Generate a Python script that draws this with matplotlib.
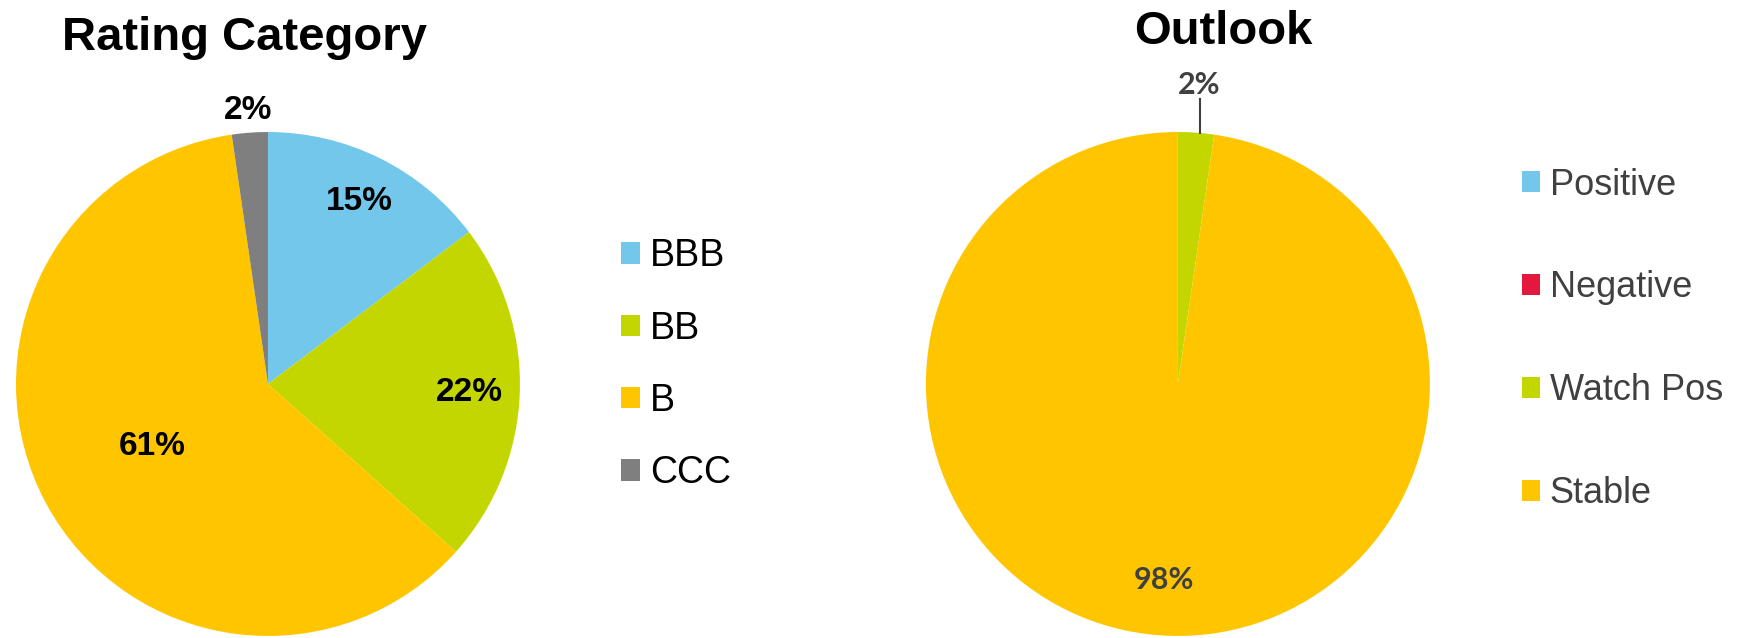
import numpy as np
import matplotlib
matplotlib.use("Agg")
import matplotlib.pyplot as plt

rating_labels = ["BBB", "BB", "B", "CCC"]
rating_values = [14.7, 21.9, 61.1, 2.3]
rating_colors = ["#72C7EB", "#C4D600", "#FFC600", "#7F7F7F"]

outlook_labels = ["Positive", "Negative", "Watch Pos", "Stable"]
outlook_values = [0.0, 0.0, 2.3, 97.7]
outlook_colors = ["#72C7EB", "#E4173E", "#C4D600", "#FFC600"]


def pct(v):
    return "" if v < 0.5 else "%.0f%%" % v


def place(wedges, texts, radii):
    # move the percent labels to where the original chart has them
    out = []
    for w, t, r in zip(wedges, texts, radii):
        ang = np.deg2rad((w.theta1 + w.theta2) / 2)
        t.set_position((r * np.cos(ang), r * np.sin(ang)))
        out.append(ang)
    return out


def main():
    fig = plt.figure(figsize=(17.48, 6.38), dpi=100)

    # left pie: rating category
    ax1 = fig.add_axes([0.00915, 0.00313, 0.2883, 0.79])
    w1, _, t1 = ax1.pie(rating_values, colors=rating_colors, startangle=90,
                        counterclock=False, autopct=pct,
                        wedgeprops=dict(linewidth=0),
                        textprops=dict(fontsize=24, fontweight="bold",
                                       family="Liberation Sans", color="black"))
    place(w1, t1, [0.81, 0.80, 0.52, 1.09])
    ax1.set_xlim(-1, 1)
    ax1.set_ylim(-1, 1)
    ax1.set_aspect("equal")
    ax1.axis("off")
    for w in w1:
        w.set_clip_on(False)
    ax1.legend(w1, rating_labels, loc="center left",
               bbox_to_anchor=(0.3553, 0.428), bbox_transform=fig.transFigure,
               frameon=False, prop=dict(family="Liberation Sans", size=27),
               handlelength=0.5, handleheight=0.5, handletextpad=0.27,
               labelspacing=0.97, borderpad=0, borderaxespad=0)

    # right pie: outlook
    ax2 = fig.add_axes([0.5297, 0.00313, 0.2883, 0.79])
    w2, _, t2 = ax2.pie(outlook_values, colors=outlook_colors, startangle=90,
                        counterclock=False, autopct=pct,
                        wedgeprops=dict(linewidth=0),
                        textprops=dict(fontsize=22, fontweight="bold",
                                       family="Lato", color="#404040"))
    angs = place(w2, t2, [1.0, 1.0, 1.19, 0.78])
    # vertical leader line for the small slice
    lx = 1.19 * np.cos(angs[2])
    ax2.plot([lx, lx], [np.sqrt(1 - lx ** 2), 1.13],
             color="#404040", lw=1.5, clip_on=False)
    ax2.set_xlim(-1, 1)
    ax2.set_ylim(-1, 1)
    ax2.set_aspect("equal")
    ax2.axis("off")
    for w in w2:
        w.set_clip_on(False)
    ax2.legend(w2, outlook_labels, loc="center left",
               bbox_to_anchor=(0.8707, 0.468), bbox_transform=fig.transFigure,
               frameon=False, prop=dict(family="Liberation Sans", size=26),
               labelcolor="#404040",
               handlelength=0.5, handleheight=0.5, handletextpad=0.27,
               labelspacing=1.88, borderpad=0, borderaxespad=0)

    fig.text(0.140, 0.941, "Rating Category", ha="center", va="center",
             fontsize=34, fontweight="bold", family="Liberation Sans")
    fig.text(0.700, 0.950, "Outlook", ha="center", va="center",
             fontsize=34, fontweight="bold", family="Liberation Sans")

    fig.savefig("out.png", dpi=100)


if __name__ == "__main__":
    main()
